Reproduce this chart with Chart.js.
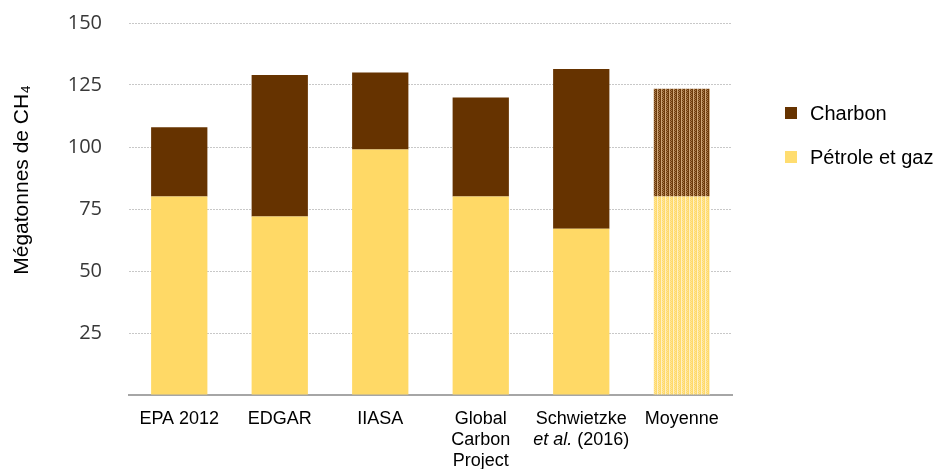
<!DOCTYPE html>
<html>
<head>
<meta charset="utf-8">
<script src="https://cdn.jsdelivr.net/npm/chart.js@4"></script>
<style>
  html, body { margin: 0; padding: 0; background: #fff; }
  #wrap { width: 944px; height: 469px; }
</style>
</head>
<body>
<div id="wrap"><canvas id="myChart" width="944" height="469"></canvas></div>
<script>
const categories = ["EPA 2012", "EDGAR", "IIASA", ["Global", "Carbon", "Project"], ["Schwietzke", "et al. (2016)"], "Moyenne"];
const petroleGaz = [80, 72, 99, 80, 67, 80];
const charbon = [28, 57, 31, 40, 64.5, 43.5];
const yTitle = "Mégatonnes de CH₄";
const italicPart = "et al.";

const brown = "#663300";
const yellow = "#FFD966";
const graph = document.querySelector("#myChart");

// motif pointille pour la barre "Moyenne"
function makePattern(base, light, mid) {
  const c = document.createElement("canvas");
  c.width = 4;
  c.height = 4;
  const ctx = c.getContext("2d");
  ctx.fillStyle = base;
  ctx.fillRect(0, 0, 4, 4);
  ctx.fillStyle = light;
  ctx.fillRect(1, 0, 1, 4);
  ctx.fillStyle = mid;
  ctx.fillRect(3, 0, 1, 1);
  ctx.fillRect(3, 2, 1, 1);
  ctx.fillRect(2, 1, 1, 1);
  ctx.fillRect(2, 3, 1, 1);
  return graph.getContext("2d").createPattern(c, "repeat");
}
const brownPattern = makePattern("#6e3c0c", "#cfa678", "#a87a4c");
const yellowPattern = makePattern("#ffda6c", "#fff0c4", "#ffe698");

const lastIdx = categories.length - 1;
const colorsFor = (solid, pat) => categories.map((c, i) => (i === lastIdx ? pat : solid));

// titre de l'axe y, legende et partie en italique
const extras = {
  id: "extras",
  afterDraw(chart) {
    const ctx = chart.ctx;
    const area = chart.chartArea;
    ctx.save();
    // titre y
    ctx.font = "21px 'Liberation Sans', Arial, sans-serif";
    ctx.fillStyle = "#000";
    ctx.textAlign = "center";
    ctx.textBaseline = "alphabetic";
    ctx.translate(28, 180);
    ctx.rotate(-Math.PI / 2);
    ctx.fillText(yTitle, 0, 0);
    ctx.restore();

    // legende
    ctx.save();
    const legendItems = [chart.data.datasets[1], chart.data.datasets[0]];
    ctx.font = "20px 'Liberation Sans', Arial, sans-serif";
    ctx.textBaseline = "middle";
    ctx.textAlign = "left";
    legendItems.forEach((ds, i) => {
      const cy = area.top + 90 + i * 44;
      ctx.fillStyle = ds.legendColor;
      ctx.fillRect(area.right + 53, cy - 6, 12, 12);
      ctx.fillStyle = "#000";
      ctx.fillText(ds.label, area.right + 78, cy + 1);
    });
    ctx.restore();

    // "et al." en italique
    const xScale = chart.scales.x;
    const lh = 18 * 1.15;
    ctx.save();
    ctx.textBaseline = "middle";
    categories.forEach((lab, i) => {
      if (!Array.isArray(lab)) return;
      lab.forEach((line, j) => {
        if (!line.startsWith(italicPart)) return;
        const rest = line.slice(italicPart.length);
        ctx.font = "italic 18px 'Liberation Sans', Arial, sans-serif";
        const w1 = ctx.measureText(italicPart).width;
        ctx.font = "18px 'Liberation Sans', Arial, sans-serif";
        const w2 = ctx.measureText(rest).width;
        const x0 = xScale.getPixelForValue(i) - (w1 + w2) / 2;
        const y = xScale.top + 14 + lh * (j + 0.5);
        ctx.fillStyle = "#000";
        ctx.font = "italic 18px 'Liberation Sans', Arial, sans-serif";
        ctx.fillText(italicPart, x0, y);
        ctx.font = "18px 'Liberation Sans', Arial, sans-serif";
        ctx.fillText(rest, x0 + w1, y);
      });
    });
    ctx.restore();
  }
};

new Chart(graph, {
  type: "bar",
  data: {
    labels: categories,
    datasets: [
      {
        label: "Pétrole et gaz",
        data: petroleGaz,
        backgroundColor: colorsFor(yellow, yellowPattern),
        legendColor: "#FFDD70",
        barPercentage: 0.56,
        categoryPercentage: 1,
      },
      {
        label: "Charbon",
        data: charbon,
        backgroundColor: colorsFor(brown, brownPattern),
        legendColor: brown,
        barPercentage: 0.56,
        categoryPercentage: 1,
      },
    ],
  },
  options: {
    responsive: false,
    animation: false,
    layout: { padding: { top: 23, right: 212, left: 0, bottom: 0 } },
    plugins: {
      legend: { display: false },
      tooltip: { enabled: false },
    },
    scales: {
      x: {
        stacked: true,
        grid: { display: false, drawTicks: false },
        border: { display: true, color: "#a6a6a6", width: 2 },
        ticks: {
          padding: 14,
          color: "#000",
          maxRotation: 0,
          autoSkip: false,
          font: { family: "'Liberation Sans', Arial, sans-serif", size: 18, lineHeight: 1.15 },
          callback: (v, i) => {
            const l = categories[i];
            return Array.isArray(l) ? l.map(s => (s.startsWith(italicPart) ? "" : s)) : l;
          },
        },
        afterFit: (scale) => {
          scale.height = 74;
          scale.paddingLeft = 0;
          scale.paddingRight = 0;
        },
      },
      y: {
        stacked: true,
        min: 0,
        max: 150,
        grid: {
          color: (ctx) => (ctx.tick && ctx.tick.value === 0 ? "rgba(0,0,0,0)" : "#c8c8c8"),
          lineWidth: 1,
          drawTicks: false,
        },
        border: { display: false, dash: [2, 1] },
        ticks: {
          stepSize: 25,
          padding: 27,
          color: "#383838",
          font: { family: "'Open Sans', sans-serif", size: 20 },
          callback: (v) => (v === 0 ? "" : v),
        },
        afterFit: (scale) => {
          scale.width = 129;
          scale.paddingTop = 0;
          scale.paddingBottom = 0;
        },
      },
    },
  },
  plugins: [extras],
});
</script>
</body>
</html>
